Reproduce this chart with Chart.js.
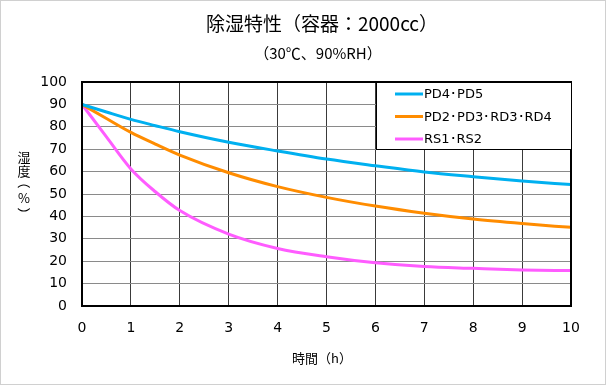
<!DOCTYPE html>
<html lang="ja">
<head>
<meta charset="UTF-8">
<title>除湿特性</title>
<script src="https://cdn.jsdelivr.net/npm/chart.js"></script>
<style>
  html, body { margin: 0; padding: 0; background: #fff; }
  #wrap { width: 606px; height: 385px; }
</style>
</head>
<body>
<div id="wrap"><canvas id="chart" width="606" height="385"></canvas></div>
<script>
const hours = [0, 0.5, 1, 1.5, 2, 3, 4, 5, 6, 7, 8, 9, 10];
const pd45 = [90, 86.6, 83.3, 80.5, 77.8, 73.1, 69.2, 65.6, 62.6, 59.8, 57.7, 55.8, 54.2];
const pd23rd34 = [90, 83.7, 77.5, 72.3, 67.4, 59.5, 53.3, 48.5, 44.6, 41.4, 38.8, 36.8, 35.1];
const rs12 = [90, 75.5, 61.2, 51.0, 42.6, 32.1, 25.7, 22.0, 19.3, 17.6, 16.8, 16.1, 15.8];
const yTicks = [0, 10, 20, 30, 40, 50, 60, 70, 80, 90, 100];

const titleText = '除湿特性（容器：2000cc）';
const subtitleText = '（30℃、90%RH）';
const xTitle = '時間（h）';
// vertical y title: [char, rotated?]
const yTitleChars = [['湿', false], ['度', false], ['（', true], ['%', false], ['）', true]];

const jp = '"Noto Sans CJK JP", "Noto Sans", sans-serif';
const num = '"DejaVu Sans", Verdana, sans-serif';

function pts(ys) {
    return hours.map((h, i) => ({ x: h, y: ys[i] }));
}

// titles, axis titles, frame and boxed legend
const decor = {
    id: 'decor',
    afterDraw(chart) {
        const c = chart.ctx, a = chart.chartArea;
        c.save();
        // outer frame
        c.strokeStyle = '#d0d0d0';
        c.lineWidth = 1;
        c.strokeRect(0.5, 0.5, chart.width - 1, chart.height - 1);

        // plot frame
        c.strokeStyle = '#000';
        c.lineWidth = 2;
        c.strokeRect(a.left, a.top, a.right - a.left, a.bottom - a.top);

        c.fillStyle = '#000';
        c.textAlign = 'center';
        c.textBaseline = 'middle';
        c.font = '19px ' + jp;
        c.fillText(titleText, 322, 24);
        c.font = '15px ' + jp;
        c.fillText(subtitleText, 318, 53);
        c.font = '13px ' + jp;
        c.fillText(xTitle, 322, 358);

        const ys = [157, 171, 182, 198, 214];
        yTitleChars.forEach(([ch, rot], i) => {
            c.save();
            c.translate(24, ys[i]);
            if (rot) c.rotate(Math.PI / 2);
            c.fillText(ch, 0, 0);
            c.restore();
        });

        // legend box
        const lx = 376, ly = 82, lw = a.right - lx, lh = 67;
        c.fillStyle = '#fff';
        c.fillRect(lx, ly, lw, lh);
        c.strokeStyle = '#000';
        c.lineWidth = 1;
        c.strokeRect(lx + 0.5, ly + 0.5, lw, lh);
        c.font = '13px ' + num;
        c.textAlign = 'left';
        chart.data.datasets.forEach((ds, i) => {
            const yy = 94 + i * 22.5;
            c.strokeStyle = ds.borderColor;
            c.lineWidth = 3;
            c.beginPath();
            c.moveTo(395, yy);
            c.lineTo(423, yy);
            c.stroke();
            c.fillStyle = '#000';
            c.fillText(ds.label, 424, yy + 1);
        });
        c.restore();
    }
};

new Chart(document.getElementById('chart'), {
    type: 'line',
    data: {
        datasets: [
            { label: 'PD4･PD5', data: pts(pd45), borderColor: '#00b0f0' },
            { label: 'PD2･PD3･RD3･RD4', data: pts(pd23rd34), borderColor: '#ff8c00' },
            { label: 'RS1･RS2', data: pts(rs12), borderColor: '#ff5cff' }
        ]
    },
    options: {
        responsive: false,
        animation: false,
        layout: { padding: { top: 82, right: 35, left: 0, bottom: 0 } },
        elements: {
            line: { borderWidth: 3, cubicInterpolationMode: 'monotone', fill: false },
            point: { radius: 0 }
        },
        plugins: {
            legend: { display: false },
            title: { display: false },
            tooltip: { enabled: false }
        },
        scales: {
            x: {
                type: 'linear',
                min: 0,
                max: 10,
                afterFit(s) { s.height = 79; },
                ticks: { stepSize: 1, padding: 14, color: '#000', font: { family: num, size: 14 } },
                grid: { color: '#3a3a3a', drawTicks: false },
                border: { color: '#000', width: 2 }
            },
            y: {
                min: 0,
                max: 100,
                afterFit(s) { s.width = 82; },
                afterBuildTicks(s) { s.ticks = yTicks.map(v => ({ value: v })); },
                ticks: { padding: 15, color: '#000', font: { family: num, size: 14 } },
                grid: { color: '#8a8a8a', drawTicks: false },
                border: { color: '#000', width: 2 }
            }
        }
    },
    plugins: [decor]
});
</script>
</body>
</html>
